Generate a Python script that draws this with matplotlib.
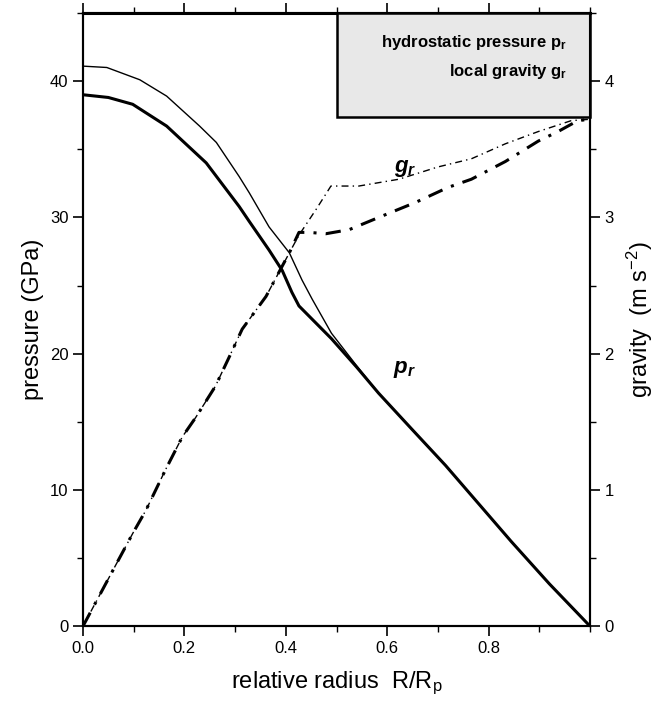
import matplotlib.pyplot as plt
import numpy as np
from matplotlib.ticker import MultipleLocator
from matplotlib.patches import Rectangle

plt.rcParams['font.family'] = ['Liberation Sans', 'DejaVu Sans']
plt.rcParams['mathtext.default'] = 'regular'

# pressure (GPa), two models
r_p1 = [0.0, 0.047, 0.112, 0.165, 0.23, 0.263, 0.308, 0.328, 0.367, 0.407,
        0.432, 0.452, 0.49, 0.54, 0.583, 0.65, 0.715, 0.78, 0.845, 0.92, 1.0]
p1 = [41.1, 41.0, 40.1, 38.9, 36.7, 35.5, 33.0, 31.8, 29.3, 27.4,
      25.4, 24.0, 21.5, 19.1, 17.1, 14.4, 11.8, 9.0, 6.2, 3.1, 0.0]
r_p2 = [0.0, 0.05, 0.098, 0.165, 0.243, 0.308, 0.328, 0.367, 0.393, 0.412,
        0.426, 0.49, 0.54, 0.583, 0.65, 0.715, 0.78, 0.845, 0.92, 1.0]
p2 = [39.0, 38.8, 38.3, 36.7, 34.0, 30.8, 29.7, 27.6, 26.1, 24.5,
      23.5, 21.1, 19.0, 17.1, 14.4, 11.8, 9.0, 6.2, 3.1, 0.0]

# gravity (m s^-2), two models
r_g1 = [0.0, 0.059, 0.098, 0.124, 0.163, 0.196, 0.222, 0.261, 0.289, 0.314, 0.361, 0.407,
        0.426, 0.46, 0.489, 0.544, 0.623, 0.70, 0.766, 0.833, 0.898, 0.963, 1.0]
g1 = [0.0, 0.41, 0.68, 0.85, 1.15, 1.39, 1.53, 1.76, 1.98, 2.18, 2.42, 2.74,
      2.87, 3.06, 3.23, 3.23, 3.28, 3.37, 3.43, 3.54, 3.63, 3.71, 3.72]
r_g2 = [0.0, 0.059, 0.098, 0.124, 0.163, 0.196, 0.222, 0.261, 0.289, 0.314, 0.361, 0.407,
        0.426, 0.446, 0.479, 0.525, 0.59, 0.656, 0.72, 0.766, 0.833, 0.898, 0.937, 0.976, 1.0]
g2 = [0.0, 0.41, 0.68, 0.85, 1.15, 1.39, 1.53, 1.76, 1.98, 2.18, 2.42, 2.74,
      2.89, 2.89, 2.88, 2.91, 3.01, 3.11, 3.22, 3.28, 3.41, 3.56, 3.63, 3.71, 3.72]

fig = plt.figure(figsize=(6.72, 7.02), dpi=100)
ax = fig.add_axes([0.1235, 0.108, 0.7545, 0.8735])
ax2 = ax.twinx()

ax.plot(r_p1, p1, color='black', lw=1.0)
ax.plot(r_p2, p2, color='black', lw=2.2)
ax2.plot(r_g1, g1, color='black', lw=1.0, dashes=(5, 3, 1, 3))
ax2.plot(r_g2, g2, color='black', lw=2.2, dashes=(5, 3, 1, 3))

ax.set_xlim(0, 1.0)
ax.set_ylim(0, 45)
ax2.set_ylim(0, 4.5)

ax.xaxis.set_minor_locator(MultipleLocator(0.1))
ax.set_xticks([0.0, 0.2, 0.4, 0.6, 0.8])
ax.set_xticklabels(['0.0', '0.2', '0.4', '0.6', '0.8'])
ax.yaxis.set_major_locator(MultipleLocator(10))
ax.yaxis.set_minor_locator(MultipleLocator(5))
ax2.yaxis.set_minor_locator(MultipleLocator(0.5))
ax2.set_yticks([0, 1, 2, 3, 4])

ax.tick_params(axis='both', which='major', direction='out', length=7, width=1.2, labelsize=12)
ax.tick_params(axis='both', which='minor', direction='out', length=4, width=1)
ax.tick_params(axis='x', which='both', top=True)
ax2.tick_params(axis='y', which='major', direction='out', length=7, width=1.2, labelsize=12)
ax2.tick_params(axis='y', which='minor', direction='out', length=4, width=1)

for a in (ax, ax2):
    for s in a.spines.values():
        s.set_linewidth(1.5)
ax.spines['top'].set_linewidth(2.2)

ax.set_xlabel('relative radius  R/R$_p$', fontsize=17, labelpad=10)
ax.set_ylabel('pressure (GPa)', fontsize=17, labelpad=4)
ax2.set_ylabel('gravity  (m s$^{-2}$)', fontsize=17, labelpad=8)

# legend box
ax.add_patch(Rectangle((0.5, 37.4), 0.5, 7.6, facecolor='#e8e8e8', edgecolor='black',
                       lw=1.8, zorder=5, clip_on=False))
ax.text(0.955, 42.8, 'hydrostatic pressure p$_r$', ha='right', va='center',
        fontsize=12, fontweight='bold', zorder=6)
ax.text(0.955, 40.7, 'local gravity g$_r$', ha='right', va='center',
        fontsize=12, fontweight='bold', zorder=6)

ax.text(0.635, 33.3, '$g_r$', fontsize=16, fontweight='bold', style='italic', ha='center')
ax.text(0.635, 18.6, '$p_r$', fontsize=16, fontweight='bold', style='italic', ha='center')

fig.savefig('out.png', dpi=100)
